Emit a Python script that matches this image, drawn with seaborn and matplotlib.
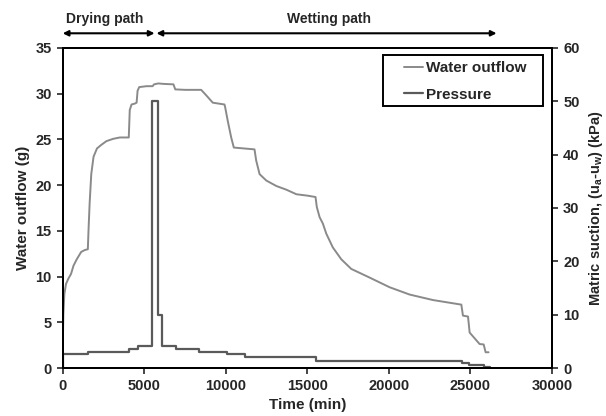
import matplotlib
matplotlib.use("Agg")
import matplotlib.pyplot as plt
import seaborn as sns
import pandas as pd
from matplotlib.lines import Line2D
from matplotlib.patches import Rectangle

# Water outflow (g) over time (min)
outflow_time = [0, 20, 40, 100, 200, 350, 510, 660, 860, 1130, 1340, 1540, 1580, 1650,
                1750, 1890, 2100, 2370, 2680, 3090, 3500, 4050, 4110, 4220, 4420, 4530,
                4590, 4690, 5140, 5510, 5600, 5860, 6170, 6790, 6900, 7500, 8490, 8800,
                9200, 9920, 9960, 10120, 10330, 10490, 11760, 11860, 12070, 12480, 13100,
                13710, 14330, 15000, 15500, 15580, 15750, 15950, 16160, 16560, 17080,
                17690, 18820, 20040, 21270, 22700, 24440, 24540, 24850, 24950, 25560,
                25810, 25930, 26110]
outflow_g = [0, 4.1, 5.9, 8.1, 9.2, 9.8, 10.3, 11.2, 11.9, 12.7, 12.9, 13.0, 15.0, 18.0,
             21.2, 23.1, 24.0, 24.4, 24.8, 25.05, 25.2, 25.2, 28.2, 28.8, 28.9, 29.0,
             30.3, 30.7, 30.8, 30.8, 31.0, 31.1, 31.05, 31.0, 30.45, 30.4, 30.4, 29.8,
             29.0, 28.8, 28.5, 27.0, 25.2, 24.1, 23.9, 22.7, 21.2, 20.5, 19.9,
             19.5, 19.0, 18.85, 18.7, 17.6, 16.5, 15.8, 14.7, 13.2, 11.9,
             10.85, 9.9, 8.85, 8.05, 7.45, 6.95, 5.75, 5.65, 3.9, 2.65,
             2.6, 1.75, 1.75]

# Applied matric suction (kPa), stepwise
pressure_time = [0, 0, 1540, 4040, 4600, 5500, 5850, 6070, 6950, 8370, 10050, 11160,
                 15550, 24480, 24930, 25840, 26200]
pressure_kpa = [0, 2.7, 3.1, 3.6, 4.1, 50.0, 10.0, 4.1, 3.6, 3.1, 2.6, 2.05,
                1.45, 1.05, 0.65, 0.15, 0.15]

series_labels = ["Water outflow", "Pressure"]
x_ticks = [0, 5000, 10000, 15000, 20000, 25000, 30000]
left_ticks = [0, 5, 10, 15, 20, 25, 30, 35]
right_ticks = [0, 10, 20, 30, 40, 50, 60]
phase_labels = ["Drying path", "Wetting path"]
phase_bounds = [0, 5690, 26600]

sns.set_style("ticks")
plt.rcParams["font.family"] = ["Liberation Sans", "DejaVu Sans"]
plt.rcParams["font.weight"] = "bold"
plt.rcParams["mathtext.fontset"] = "custom"
plt.rcParams["mathtext.rm"] = "Liberation Sans:bold"
plt.rcParams["mathtext.it"] = "Liberation Sans:bold"
plt.rcParams["mathtext.bf"] = "Liberation Sans:bold"

c_out = "#8a8a8a"
c_pr = "#5a5a5a"

fig = plt.figure(figsize=(6.06, 4.16), dpi=100)
ax = fig.add_axes([0.1035, 0.1147, 0.8074, 0.7706])
ax2 = ax.twinx()

df_out = pd.DataFrame({"t": outflow_time, "v": outflow_g})
df_pr = pd.DataFrame({"t": pressure_time, "v": pressure_kpa})

sns.lineplot(data=df_out, x="t", y="v", ax=ax, color=c_out, lw=1.4,
             estimator=None, sort=False)
sns.lineplot(data=df_pr, x="t", y="v", ax=ax2, color=c_pr, lw=1.6,
             estimator=None, sort=False, drawstyle="steps-post")

ax.set_xlim(0, 30000)
ax.set_ylim(0, 35)
ax2.set_ylim(0, 60)
ax.set_xticks(x_ticks)
ax.set_yticks(left_ticks)
ax2.set_yticks(right_ticks)

ax.set_xlabel("Time (min)", fontsize=11, fontweight="bold", labelpad=3)
ax.set_ylabel("Water outflow (g)", fontsize=11, fontweight="bold", labelpad=4)
ax2.set_ylabel(r"Matric suction, (u$_{a}$-u$_{w}$) (kPa)", fontsize=10.5,
               fontweight="bold", labelpad=5)

for a in (ax, ax2):
    a.tick_params(axis="both", which="major", labelsize=10.5, length=4, width=1.2,
                  direction="out", pad=4)
    for lab in a.get_xticklabels() + a.get_yticklabels():
        lab.set_fontweight("bold")
    for s in a.spines.values():
        s.set_linewidth(1.4)
        s.set_color("black")
        s.set_visible(True)

# Legend with a separately drawn square frame
frame = Rectangle((0.6546, 0.8181), 0.327, 0.1591, transform=ax2.transAxes,
                  fill=True, facecolor="white", edgecolor="black", lw=1.4, zorder=4)
ax2.add_patch(frame)
handles = [Line2D([], [], color=c_out, lw=1.4), Line2D([], [], color=c_pr, lw=1.6)]
leg = ax2.legend(handles, series_labels, loc="upper left",
                 bbox_to_anchor=(0.698, 0.957), frameon=False, borderpad=0.0,
                 borderaxespad=0.0, handlelength=1.25, handletextpad=0.15,
                 labelspacing=0.79, prop={"size": 11, "weight": "bold"})
leg.set_zorder(5)

# Phase arrows above the plot
trans = ax.get_xaxis_transform()
gap = 60
ax.annotate("", xy=(phase_bounds[0], 1.045), xytext=(phase_bounds[1] - gap, 1.045),
            xycoords=trans, textcoords=trans, annotation_clip=False,
            arrowprops=dict(arrowstyle="<|-|>", lw=1.5, color="black",
                            mutation_scale=8, shrinkA=0, shrinkB=0))
ax.annotate("", xy=(phase_bounds[1] + gap, 1.045), xytext=(phase_bounds[2], 1.045),
            xycoords=trans, textcoords=trans, annotation_clip=False,
            arrowprops=dict(arrowstyle="<|-|>", lw=1.5, color="black",
                            mutation_scale=8, shrinkA=0, shrinkB=0))
ax.text((phase_bounds[0] + phase_bounds[1]) / 2 - 300, 1.09, phase_labels[0],
        transform=trans, ha="center", va="center", fontsize=10, fontweight="bold")
ax.text(16300, 1.09, phase_labels[1], transform=trans, ha="center", va="center",
        fontsize=10, fontweight="bold")

fig.savefig("out.png", dpi=100)
